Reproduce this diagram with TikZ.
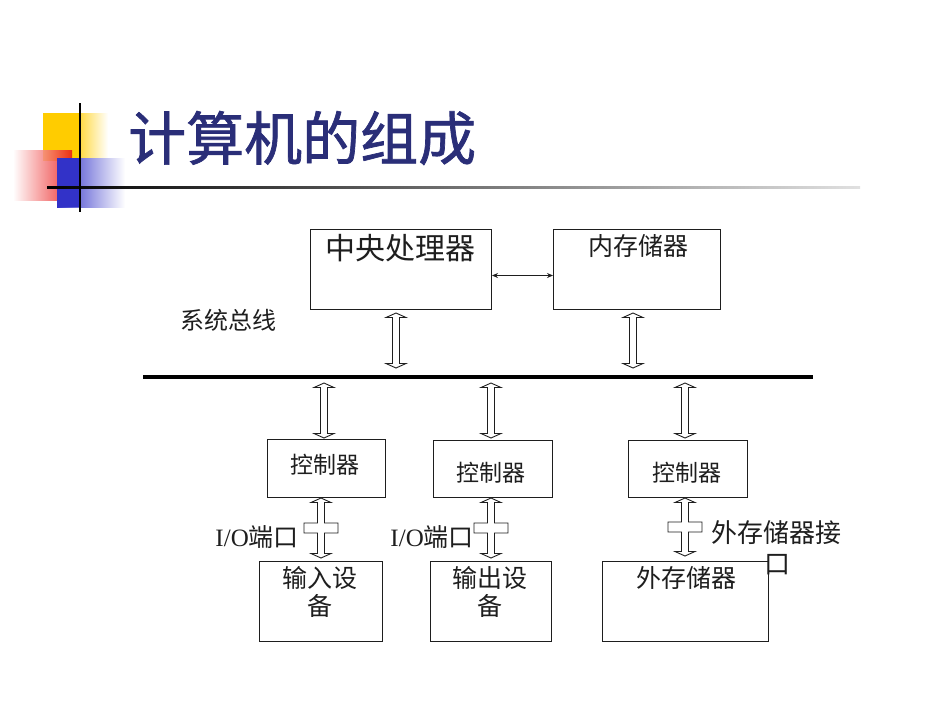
\documentclass[tikz,border=0pt]{standalone}
\usepackage{fontspec}
\setmainfont{Noto Sans CJK SC}
\newfontfamily\latinserif{Liberation Serif}
\newfontfamily\titlefont[FakeBold=1.2]{Noto Sans CJK SC}
\usetikzlibrary{arrows.meta,calc}
\definecolor{titleblue}{RGB}{42,46,120}
\definecolor{decoyellow}{RGB}{255,204,0}
\definecolor{decored}{RGB}{235,20,20}
\definecolor{decoblue}{RGB}{50,50,200}
\definecolor{ink}{RGB}{30,30,30}
\newcommand{\fs}[1]{\fontsize{#1}{#1}\selectfont}
\tikzset{
  box/.style={draw=ink, line width=1pt, anchor=north west, inner sep=0pt},
  boxtext/.style={text=ink, inner sep=0pt, align=center},
  blockarr/.style={draw=ink, line width=0.9pt, fill=white, line join=miter},
  buslinestyle/.style={line width=4pt, black},
}
% hollow double arrow between two tips (same x); #1 top tip, #2 bottom tip
\newcommand{\hollowarrow}[2]{%
  \draw[blockarr] let \p1=(#1), \p2=(#2) in
   (\x1,\y1) -- (\x1+10pt,\y1-4.5pt) -- (\x1+3.5pt,\y1-4.5pt) -- (\x1+3.5pt,\y2+4.5pt)
   -- (\x1+10pt,\y2+4.5pt) -- (\x1,\y2) -- (\x1-10pt,\y2+4.5pt) -- (\x1-3.5pt,\y2+4.5pt)
   -- (\x1-3.5pt,\y1-4.5pt) -- (\x1-10pt,\y1-4.5pt) -- cycle;}
% hollow double arrow with a cross bar in its middle
\newcommand{\crossarrow}[2]{%
  \draw[blockarr] let \p1=(#1), \p2=(#2), \n1={0.5*(\y1+\y2)} in
   (\x1,\y1) -- (\x1+10pt,\y1-4.5pt) -- (\x1+3.5pt,\y1-4.5pt) -- (\x1+3.5pt,\n1+5pt)
   -- (\x1+17pt,\n1+5pt) -- (\x1+17pt,\n1-5pt) -- (\x1+3.5pt,\n1-5pt)
   -- (\x1+3.5pt,\y2+4.5pt) -- (\x1+10pt,\y2+4.5pt) -- (\x1,\y2) -- (\x1-10pt,\y2+4.5pt)
   -- (\x1-3.5pt,\y2+4.5pt) -- (\x1-3.5pt,\n1-5pt) -- (\x1-17pt,\n1-5pt)
   -- (\x1-17pt,\n1+5pt) -- (\x1-3.5pt,\n1+5pt) -- (\x1-3.5pt,\y1-4.5pt)
   -- (\x1-10pt,\y1-4.5pt) -- cycle;}
\begin{document}
\begin{tikzpicture}[x=1pt,y=-1pt]
\useasboundingbox[fill=white] (0,0) rectangle (950,713);

% ---- title decoration ----
\shade[left color=decoyellow, right color=white, middle color=decoyellow!85]
  (43,113) rectangle (108,160);
\fill[decoyellow] (43,113) rectangle (80,160);
\shade[left color=white, right color=decored, opacity=0.85] (13,150) rectangle (72,200);
\shade[top color=white, bottom color=white, middle color=white, opacity=0] (13,150) rectangle (72,200);
\shade[left color=decoblue, right color=white] (57,158) rectangle (125,207);
\fill[decoblue] (57,158) rectangle (80,207);
\shade[left color=black, right color=white!88!black] (47,186) rectangle (860,188.5);
\draw[line width=2pt, black] (80,103) -- (80,212);
\node[anchor=west, text=titleblue, inner sep=0pt] (title) at (128,138) {\titlefont\fs{58}计算机的组成};

% ---- top boxes ----
\node[box, minimum width=181pt, minimum height=80pt] (cpu) at (310,229) {};
\node[boxtext] (cputext) at (400,248) {\fs{30}中央处理器};
\node[box, minimum width=167pt, minimum height=80pt] (mem) at (553,229) {};
\node[boxtext] (memtext) at (638,246) {\fs{25}内存储器};
\draw[ink, line width=1.3pt, {Stealth[length=6pt,width=5pt]}-{Stealth[length=6pt,width=5pt]}]
  ([yshift=-6pt]cpu.east) -- ([yshift=-6pt]mem.west);

\node[boxtext, anchor=west] (buslabel) at (180,320) {\fs{24}系统总线};

% ---- bus ----
\coordinate (busL) at (143,377);
\coordinate (busR) at (813,377);
\draw[buslinestyle] (busL) -- (busR);

% ---- controllers ----
\node[box, minimum width=118pt, minimum height=58pt] (ctrlA) at (267,439) {};
\node[boxtext] (ctrlAtext) at (325,465) {\fs{23}控制器};
\node[box, minimum width=119pt, minimum height=57pt] (ctrlB) at (433,440) {};
\node[boxtext] (ctrlBtext) at (491,473) {\fs{23}控制器};
\node[box, minimum width=119pt, minimum height=57pt] (ctrlC) at (628,440) {};
\node[boxtext] (ctrlCtext) at (687,473) {\fs{23}控制器};

% ---- devices ----
\node[box, minimum width=123pt, minimum height=80pt] (inDev) at (259,561) {};
\node[boxtext] (inDevtext) at (320,592) {\fs{25}输入设\\[3pt]\fs{25}备};
\node[box, minimum width=121pt, minimum height=80pt] (outDev) at (430,561) {};
\node[boxtext] (outDevtext) at (490,592) {\fs{25}输出设\\[3pt]\fs{25}备};
\node[box, minimum width=166pt, minimum height=80pt] (extDev) at (602,561) {};
\node[boxtext] (extDevtext) at (686,578) {\fs{25}外存储器};

% ---- block arrows ----
\coordinate (aCt) at (396,313); \coordinate (aCb) at (396,368);
\coordinate (aMt) at (633,313); \coordinate (aMb) at (633,368);
\coordinate (aAt) at (324,383); \coordinate (aAb) at (324,438);
\coordinate (aBt) at (491,383); \coordinate (aBb) at (491,438);
\coordinate (aDt) at (685,383); \coordinate (aDb) at (685,438);
\hollowarrow{aCt}{aCb}
\hollowarrow{aMt}{aMb}
\hollowarrow{aAt}{aAb}
\hollowarrow{aBt}{aBb}
\hollowarrow{aDt}{aDb}

\coordinate (xAt) at (321,498); \coordinate (xAb) at (321,558);
\coordinate (xBt) at (491,498); \coordinate (xBb) at (491,558);
\coordinate (xCt) at (685,498); \coordinate (xCb) at (685,556);
\crossarrow{xAt}{xAb}
\crossarrow{xBt}{xBb}
\crossarrow{xCt}{xCb}

% ---- interface labels ----
\node[boxtext, anchor=east] (ioA) at (299,537) {\fs{25}{\latinserif I/O}端口};
\node[boxtext, anchor=east] (ioB) at (474,537) {\fs{25}{\latinserif I/O}端口};
\node[boxtext, anchor=west] (extIf) at (711,533) {\fs{26}外存储器接};
\node[boxtext] (extIf2) at (777,565) {\fs{26}口};
\end{tikzpicture}
\end{document}
